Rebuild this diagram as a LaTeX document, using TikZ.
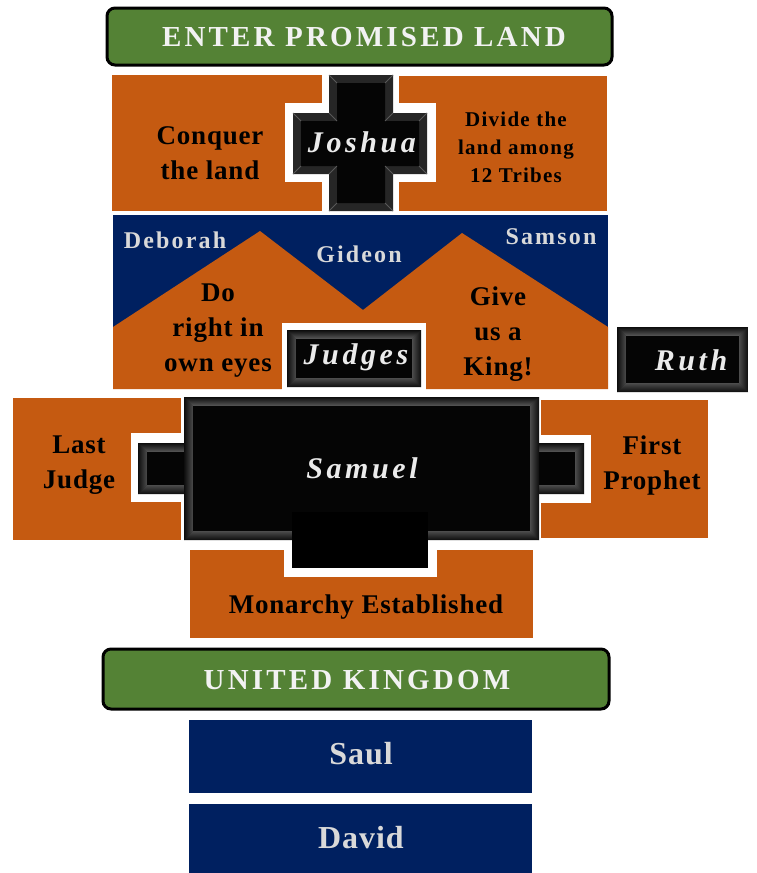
\documentclass[tikz,border=0pt]{standalone}
\usepackage{fontspec}
\setmainfont{Liberation Serif}
\definecolor{org}{HTML}{C55A11}
\definecolor{navy}{HTML}{002060}
\definecolor{grn}{HTML}{548235}
\definecolor{lgray}{HTML}{D9D9D9}
\tikzset{
  orgbox/.style={fill=org},
  navybox/.style={fill=navy},
  banner/.style={fill=grn, draw=black, line width=3pt, rounded corners=8pt},
  bodytxt/.style={inner sep=0pt, align=center, text=black,
     font={\fontsize{27}{35}\selectfont\bfseries\addfontfeatures{LetterSpace=3}}},
  smalltxt/.style={inner sep=0pt, align=center, text=black,
     font={\fontsize{21}{28}\selectfont\bfseries\addfontfeatures{LetterSpace=6}}},
  nametxt/.style={inner sep=0pt, text=lgray,
     font={\fontsize{24}{28}\selectfont\bfseries\addfontfeatures{LetterSpace=9}}},
  kingtxt/.style={inner sep=0pt, text=lgray,
     font={\fontsize{32}{36}\selectfont\bfseries\addfontfeatures{LetterSpace=3}}},
  bannertxt/.style={inner sep=0pt, text=white!95!black,
     font={\fontsize{29}{32}\selectfont\bfseries\addfontfeatures{LetterSpace=11}}},
  blacktxt/.style={inner sep=0pt, text=white!92!black,
     font={\fontsize{30}{34}\selectfont\bfseries\itshape\addfontfeatures{LetterSpace=12}}},
}
\newcommand\bevbox[4]{%
  \fill[black!88] (#1,#2) rectangle (#3,#4);
  \shade[top color=black!95, bottom color=black!65] (#1,#2) -- (#3,#2) -- (#3-9,#2+9) -- (#1+9,#2+9) -- cycle;
  \shade[top color=black!70, bottom color=black!95] (#1,#4) -- (#3,#4) -- (#3-9,#4-9) -- (#1+9,#4-9) -- cycle;
  \shade[left color=black!95, right color=black!70] (#1,#2) -- (#1+9,#2+9) -- (#1+9,#4-9) -- (#1,#4) -- cycle;
  \shade[left color=black!70, right color=black!95] (#3,#2) -- (#3-9,#2+9) -- (#3-9,#4-9) -- (#3,#4) -- cycle;
  \fill[black!98] (#1+9,#2+9) rectangle (#3-9,#4-9);
}
\begin{document}
\begin{tikzpicture}[x=1pt, y=-1pt]
\useasboundingbox (0,0) rectangle (757,873);
\fill[white] (0,0) rectangle (757,873);

% ---- Enter Promised Land banner
\draw[banner] (107,8) rectangle (612,65);
\node[bannertxt] (enter) at (364,37) {ENTER PROMISED LAND};

% ---- Joshua row
\fill[orgbox] (112,75) rectangle (323,211);
\fill[orgbox] (399,76) rectangle (607,211);
\fill[white] (285,103) rectangle (436,182);
\fill[white] (322,70) rectangle (399,215);
\fill[black!85] (329,75) -- (393,75) -- (393,113) -- (427,113) -- (427,174) -- (393,174) -- (393,211)
   -- (329,211) -- (329,174) -- (293,174) -- (293,113) -- (329,113) -- cycle;
\fill[black!98] (337,83) -- (385,83) -- (385,121) -- (419,121) -- (419,166) -- (385,166) -- (385,203)
   -- (337,203) -- (337,166) -- (301,166) -- (301,121) -- (337,121) -- cycle;
\draw[black!65, line width=0.8pt] (329,75) -- (337,83) (393,75) -- (385,83) (393,113) -- (385,121)
   (427,113) -- (419,121) (427,174) -- (419,166) (393,174) -- (385,166) (393,211) -- (385,203)
   (329,211) -- (337,203) (329,174) -- (337,166) (293,174) -- (301,166) (293,113) -- (301,121)
   (329,113) -- (337,121);
\node[bodytxt] (conquer) at (210,153) {Conquer\\the land};
\node[smalltxt] (divide) at (516,147) {Divide the\\land among\\12 Tribes};
\node[blacktxt] (joshua) at (362,142) {Joshua};

% ---- Judges section
\fill[navybox] (113,215) rectangle (608,327);
\fill[orgbox] (113,327) -- (260,231) -- (363,310) -- (462,233) -- (608,327) -- (608,389) -- (113,389) -- cycle;
\fill[white] (282,323) rectangle (426,393);
\bevbox{287}{330}{421}{387}
\node[nametxt] (deborah) at (175,240) {Deborah};
\node[nametxt] (gideon) at (359,254) {Gideon};
\node[nametxt] (samson) at (551,237) {Samson};
\node[bodytxt] (doright) at (218,331) {Do\\right in\\own eyes};
\node[bodytxt] (give) at (498,334) {Give\\us a\\King!};
\node[blacktxt] (judges) at (356,357) {Judges};

% ---- Ruth
\bevbox{617}{327}{748}{392}
\node[blacktxt] (ruth) at (691,360) {Ruth};

% ---- Samuel section
\fill[orgbox] (13,398) rectangle (181,540);
\fill[orgbox] (541,400) rectangle (708,538);
\fill[orgbox] (190,550) rectangle (533,638);
\fill[white] (131,433) rectangle (190,502);
\fill[white] (533,435) rectangle (591,503);
\fill[white] (284,540) rectangle (437,577);
\bevbox{138}{443}{200}{494}
\bevbox{523}{443}{584}{494}
\bevbox{184}{397}{539}{540}
\fill[black] (292,512) rectangle (428,568);
\node[bodytxt] (last) at (79,465) {Last\\Judge};
\node[bodytxt] (first) at (652,465) {First\\Prophet};
\node[blacktxt] (samuel) at (362,468) {Samuel};
\node[bodytxt] (monarchy) at (366,607) {Monarchy Established};

% ---- United Kingdom
\draw[banner] (103,649) rectangle (609,709);
\node[bannertxt] (united) at (357,680) {UNITED KINGDOM};
\fill[navybox] (189,720) rectangle (532,793);
\node[kingtxt] (saul) at (361,754) {Saul};
\fill[navybox] (189,804) rectangle (532,873);
\node[kingtxt] (david) at (361,838) {David};
\end{tikzpicture}
\end{document}
